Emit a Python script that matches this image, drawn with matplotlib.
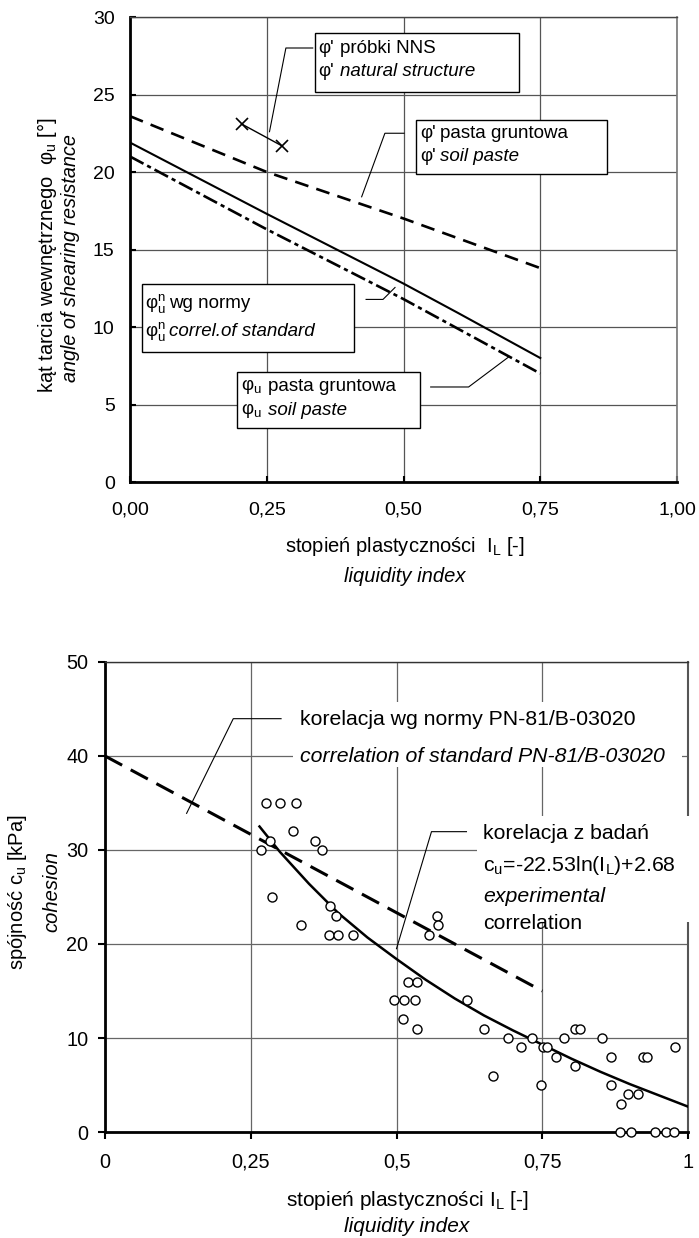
import matplotlib
matplotlib.use("Agg")
import matplotlib.pyplot as plt
from matplotlib.patches import Rectangle

plt.rcParams['font.family'] = ['Liberation Sans', 'DejaVu Sans']
plt.rcParams['mathtext.fontset'] = 'custom'
plt.rcParams['mathtext.rm'] = 'Liberation Sans'
plt.rcParams['mathtext.it'] = 'Liberation Sans:italic'
plt.rcParams['lines.scale_dashes'] = False

# --- upper chart: friction angle vs liquidity index ---
il_lines = [0.0, 0.25, 0.5, 0.75]
phi_eff_paste = [23.6, 20.0, 17.0, 13.8]          # phi' soil paste (dashed)
phi_u_paste = [21.0, 16.3, 11.8, 7.0]             # phi_u soil paste (dash-dot)
il_norm = [0.0, 0.25, 0.5, 0.6, 0.75]
phi_u_norm = [21.9, 17.3, 12.8, 10.9, 8.0]        # phi_u^n standard (solid)
il_nns = [0.204, 0.277]
phi_nns = [23.1, 21.7]                            # phi' natural structure samples

top_xticks = [0.0, 0.25, 0.5, 0.75, 1.0]
top_xticklabels = ["0,00", "0,25", "0,50", "0,75", "1,00"]
top_yticks = [0, 5, 10, 15, 20, 25, 30]

# --- lower chart: cohesion vs liquidity index ---
il_pts = [0.277, 0.301, 0.328, 0.323, 0.283, 0.267, 0.360, 0.372, 0.287, 0.336,
          0.386, 0.396, 0.385, 0.400, 0.426, 0.569, 0.572, 0.556, 0.520, 0.536,
          0.495, 0.513, 0.532, 0.511, 0.535, 0.621, 0.650, 0.666, 0.692, 0.713,
          0.732, 0.752, 0.758, 0.748, 0.774, 0.788, 0.806, 0.814, 0.806, 0.852,
          0.868, 0.868, 0.885, 0.897, 0.915, 0.922, 0.929, 0.978,
          0.883, 0.903, 0.943, 0.963, 0.976]
cu_pts = [35, 35, 35, 32, 31, 30, 31, 30, 25, 22,
          24, 23, 21, 21, 21, 23, 22, 21, 16, 16,
          14, 14, 14, 12, 11, 14, 11, 6, 10, 9,
          10, 9, 9, 5, 8, 10, 11, 11, 7, 10,
          8, 5, 3, 4, 4, 8, 8, 9,
          0, 0, 0, 0, 0]

il_fit = [0.265, 0.30, 0.35, 0.40, 0.45, 0.50, 0.55, 0.60, 0.65, 0.70,
          0.75, 0.80, 0.85, 0.90, 0.95, 1.00]
cu_fit = [32.5, 29.8, 26.4, 23.3, 20.7, 18.4, 16.2, 14.2, 12.4, 10.8,
          9.3, 7.8, 6.4, 5.1, 3.9, 2.7]

il_std = [0.0, 0.75]
cu_std = [40, 15]

bot_xticks = [0.0, 0.25, 0.5, 0.75, 1.0]
bot_xticklabels = ["0", "0,25", "0,5", "0,75", "1"]
bot_yticks = [0, 10, 20, 30, 40, 50]

W, H = 699, 1238
fig = plt.figure(figsize=(W / 100, H / 100), dpi=100)


def px_box(x0, y0, x1, y1):
    # axes rectangle from pixel corners (top-left origin)
    return [x0 / W, 1 - y1 / H, (x1 - x0) / W, (y1 - y0) / H]


def style_axes(ax, grid_color):
    ax.set_axisbelow(True)
    ax.grid(True, color=grid_color, lw=0.9)
    for s in ("left", "bottom"):
        ax.spines[s].set_linewidth(2.0)
        ax.spines[s].set_color("black")


# ================= upper chart =================
ax1 = fig.add_axes(px_box(130, 17, 677, 482))
style_axes(ax1, "#555555")
ax1.spines["top"].set_linewidth(1.0)
ax1.spines["top"].set_color("#444444")
ax1.spines["right"].set_linewidth(1.2)
ax1.spines["right"].set_color("#777777")

ax1.plot(il_lines, phi_eff_paste, color="black", lw=1.9, dashes=(10, 6), zorder=4)
ax1.plot(il_norm, phi_u_norm, color="black", lw=1.5, zorder=4)
ax1.plot(il_lines, phi_u_paste, color="black", lw=1.9, dashes=(11, 3, 3, 3), zorder=4)
ax1.plot(il_nns, phi_nns, color="black", lw=1.0, marker="x", ms=9, mew=1.2, zorder=4)

ax1.set_xlim(0, 1)
ax1.set_ylim(0, 30)
ax1.set_xticks(top_xticks)
ax1.set_xticklabels(top_xticklabels)
ax1.set_yticks(top_yticks)
ax1.tick_params(direction="in", length=4, width=1.5, labelsize=14)
ax1.tick_params(axis="x", pad=14)
ax1.tick_params(axis="y", pad=11)

top_fs = 13.5
# label boxes: (x0, x1, y0, y1)
for x0, x1, y0, y1 in [(0.338, 0.711, 25.16, 28.97), (0.523, 0.872, 19.87, 23.35),
                       (0.022, 0.409, 8.39, 12.77), (0.195, 0.530, 3.48, 7.10)]:
    ax1.add_patch(Rectangle((x0, y0), x1 - x0, y1 - y0, facecolor="white",
                            edgecolor="black", lw=1.0, zorder=5))

ax1.text(0.344, 28.0, "φ'", fontsize=top_fs, va="center", zorder=6)
ax1.text(0.384, 28.0, "próbki NNS", fontsize=top_fs, va="center", zorder=6)
ax1.text(0.344, 26.47, "φ'", fontsize=top_fs, va="center", zorder=6)
ax1.text(0.384, 26.47, "natural structure", fontsize=top_fs, style="italic", va="center", zorder=6)

ax1.text(0.530, 22.5, "φ'", fontsize=top_fs, va="center", zorder=6)
ax1.text(0.567, 22.5, "pasta gruntowa", fontsize=top_fs, va="center", zorder=6)
ax1.text(0.530, 20.99, "φ'", fontsize=top_fs, va="center", zorder=6)
ax1.text(0.567, 20.99, "soil paste", fontsize=top_fs, style="italic", va="center", zorder=6)

ax1.text(0.028, 11.53, r"φ$_\mathregular{u}^\mathregular{n}$", fontsize=top_fs, va="center", zorder=6)
ax1.text(0.071, 11.53, "wg normy", fontsize=top_fs, va="center", zorder=6)
ax1.text(0.028, 9.70, r"φ$_\mathregular{u}^\mathregular{n}$", fontsize=top_fs, va="center", zorder=6)
ax1.text(0.071, 9.70, "correl.of standard", fontsize=top_fs, style="italic", va="center", zorder=6)

ax1.text(0.203, 6.15, r"φ$_\mathregular{u}$", fontsize=top_fs, va="center", zorder=6)
ax1.text(0.253, 6.15, "pasta gruntowa", fontsize=top_fs, va="center", zorder=6)
ax1.text(0.203, 4.60, r"φ$_\mathregular{u}$", fontsize=top_fs, va="center", zorder=6)
ax1.text(0.253, 4.60, "soil paste", fontsize=top_fs, style="italic", va="center", zorder=6)

# leader lines
ax1.plot([0.334, 0.285, 0.255], [28.0, 28.0, 22.6], color="black", lw=0.8, zorder=6)
ax1.plot([0.501, 0.466, 0.4235], [22.5, 22.5, 18.4], color="black", lw=0.8, zorder=6)
ax1.plot([0.4316, 0.4625, 0.4845], [11.78, 11.78, 12.55], color="black", lw=0.8, zorder=6)
ax1.plot([0.5497, 0.619, 0.692], [6.13, 6.13, 8.06], color="black", lw=0.8, zorder=6)

fig.text(47 / W, 1 - 255 / H, r"kąt tarcia wewnętrznego  φ$_\mathregular{u}$ [°]",
         rotation=90, ha="center", va="center", fontsize=14.5)
fig.text(71 / W, 1 - 258 / H, "angle of shearing resistance", style="italic",
         rotation=90, ha="center", va="center", fontsize=14.3)
fig.text(405 / W, 1 - 546 / H, r"stopień plastyczności  I$_\mathregular{L}$ [-]",
         ha="center", va="center", fontsize=14.5)
fig.text(405 / W, 1 - 576 / H, "liquidity index", style="italic",
         ha="center", va="center", fontsize=14.5)

# ================= lower chart =================
ax2 = fig.add_axes(px_box(105, 662, 688, 1132))
style_axes(ax2, "#666666")
ax2.spines["top"].set_linewidth(1.0)
ax2.spines["top"].set_color("#333333")
ax2.spines["right"].set_linewidth(1.5)
ax2.spines["right"].set_color("#555555")

ax2.plot(il_std, cu_std, color="black", lw=2.2, dashes=(14, 7), zorder=4)
ax2.plot(il_fit, cu_fit, color="black", lw=1.8, zorder=4)
ax2.plot(il_pts, cu_pts, linestyle="none", marker="o", ms=6.5, mfc="white",
         mec="black", mew=1.0, zorder=5, clip_on=False)

ax2.set_xlim(0, 1)
ax2.set_ylim(0, 50)
ax2.set_xticks(bot_xticks)
ax2.set_xticklabels(bot_xticklabels)
ax2.set_yticks(bot_yticks)
ax2.tick_params(direction="out", length=5, width=1.5, labelsize=14.3)
ax2.tick_params(axis="x", pad=10)
ax2.tick_params(axis="y", pad=7)

# white backgrounds behind the notes (they hide the grid)
ax2.add_patch(Rectangle((0.322, 38.83), 0.668, 6.91, facecolor="white",
                        edgecolor="none", zorder=3))
ax2.add_patch(Rectangle((0.6376, 22.3), 0.39, 11.35, facecolor="white",
                        edgecolor="none", zorder=3, clip_on=False))

bot_fs = 15.3
ax2.text(0.334, 43.83, "korelacja wg normy PN-81/B-03020", fontsize=bot_fs, va="center", zorder=6)
ax2.text(0.334, 39.93, "correlation of standard PN-81/B-03020", fontsize=bot_fs,
         style="italic", va="center", zorder=6)
ax2.text(0.648, 31.78, "korelacja z badań", fontsize=bot_fs, va="center", zorder=6)
ax2.text(0.648, 28.40, r"c$_\mathregular{u}$=-22.53ln(I$_\mathregular{L}$)+2.68",
         fontsize=bot_fs, va="center", zorder=6)
ax2.text(0.648, 25.03, "experimental", fontsize=bot_fs, style="italic", va="center", zorder=6)
ax2.text(0.648, 22.20, "correlation", fontsize=bot_fs, va="center", zorder=6)

ax2.plot([0.302, 0.220, 0.140], [43.97, 43.97, 33.9], color="black", lw=0.8, zorder=6)
ax2.plot([0.620, 0.560, 0.500], [31.95, 31.95, 19.5], color="black", lw=0.8, zorder=6)

fig.text(18 / W, 1 - 892 / H, r"spójność c$_\mathregular{u}$ [kPa]",
         rotation=90, ha="center", va="center", fontsize=14.5)
fig.text(52 / W, 1 - 892 / H, "cohesion", style="italic",
         rotation=90, ha="center", va="center", fontsize=14.5)
fig.text(407 / W, 1 - 1200 / H, r"stopień plastyczności I$_\mathregular{L}$ [-]",
         ha="center", va="center", fontsize=15)
fig.text(407 / W, 1 - 1226 / H, "liquidity index", style="italic",
         ha="center", va="center", fontsize=15)

fig.savefig("out.png", dpi=100)
